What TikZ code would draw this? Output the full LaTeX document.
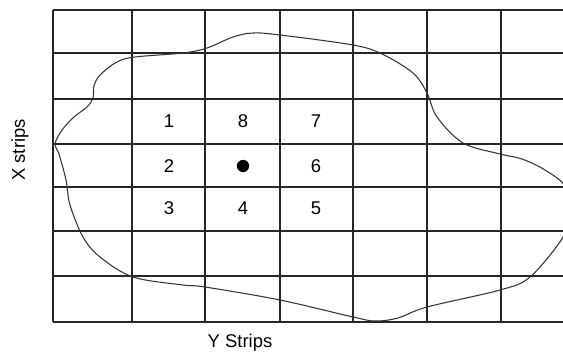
\documentclass[tikz,border=0pt]{standalone}
\usepackage{fontspec}
\setmainfont{Liberation Sans}

\begin{document}
\begin{tikzpicture}[x=0.02cm, y=-0.02cm]
	% Stili
	\tikzset{
		griglia/.style={line width=0.75pt, black!85},
		bordo/.style={line width=0.6pt, black!80},
		cella/.style={font=\fontsize{10.5}{12}\selectfont, inner sep=0pt},
		etichetta/.style={font=\fontsize{10.5}{12}\selectfont, inner sep=0pt}
	}
	\useasboundingbox (0,0) rectangle (563,354);
	\begin{scope}
		\clip (0,0) rectangle (563,354);
		
		% Griglia delle strisce
		\foreach \x in {53,132,205,280,353,427,501}
			\draw[griglia] (\x,10) -- (\x,322);
		\foreach \y in {10,53,99,144,187,231,276,322}
			\draw[griglia] (53,\y) -- (570,\y);
		
		% Contorno della regione
		\draw[bordo] plot[smooth cycle, tension=0.55] coordinates {
			(55,144) (62,130) (74,117) (87,107) (93,98) (94,86) (100,75)
			(117,62) (135,57) (183,53) (207,48) (233,37) (253,33) (280,35)
			(353,45) (382,54) (413,73) (427,93) (437,117) (463,143)
			(500,154) (522,159) (545,170) (565,186) (569,210) (563,237)
			(530,277) (500,290) (427,307) (398,318) (375,321) (353,317)
			(280,300) (205,287) (183,285) (133,277) (100,257) (83,237)
			(70,205) (66,180) (59,154)};
	\end{scope}
	
	% Celle numerate
	\node[cella] (n1) at (169,121) {1};
	\node[cella] (n8) at (243,121) {8};
	\node[cella] (n7) at (316,121) {7};
	\node[cella] (n2) at (169,166) {2};
	\node[circle, fill=black, minimum size=7pt, inner sep=0pt] (centro) at (243,166) {};
	\node[cella] (n6) at (316,166) {6};
	\node[cella] (n3) at (169,208) {3};
	\node[cella] (n4) at (243,208) {4};
	\node[cella] (n5) at (316,208) {5};
	
	% Etichette degli assi
	\node[etichetta, rotate=90] (xstrips) at (20,150) {X strips};
	\node[etichetta] (ystrips) at (240,343) {Y Strips};
\end{tikzpicture}
\end{document}
